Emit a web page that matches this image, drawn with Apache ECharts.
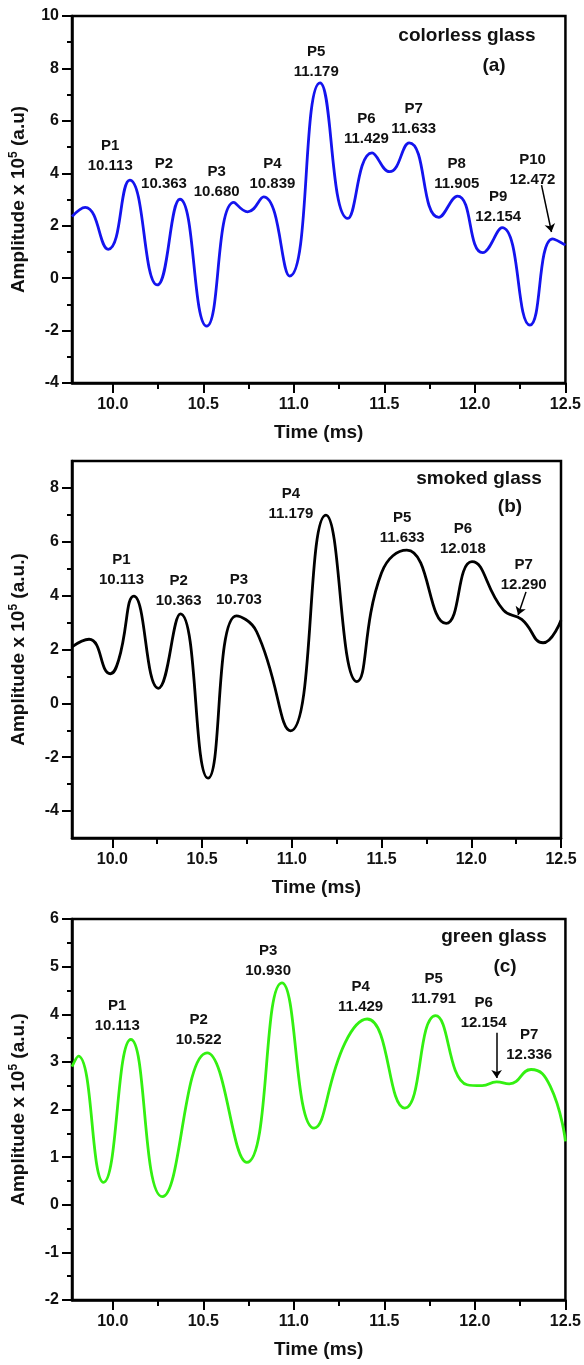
<!DOCTYPE html>
<html>
<head>
<meta charset="utf-8">
<script src="https://cdn.jsdelivr.net/npm/echarts@6/dist/echarts.min.js"></script>
<style>
  html, body { margin: 0; padding: 0; background: #fff; }
  #main { width: 584px; height: 1365px; }
</style>
</head>
<body>
<div id="main"></div>
<script>
// (a) colorless glass
var timeA = [9.775, 9.848, 9.975, 10.094, 10.246, 10.371, 10.519, 10.669, 10.745, 10.833, 10.977, 11.145,
  11.298, 11.432, 11.529, 11.637, 11.801, 11.904, 12.043, 12.150, 12.304, 12.430, 12.500];
var ampA = [2.35, 2.70, 1.10, 3.74, -0.26, 3.01, -1.83, 2.89, 2.53, 3.10, 0.08, 7.45,
  2.28, 4.78, 4.06, 5.16, 2.32, 3.13, 0.97, 1.93, -1.79, 1.50, 1.26];
var peakNameA = ['P1', 'P2', 'P3', 'P4', 'P5', 'P6', 'P7', 'P8', 'P9', 'P10'];
var peakTimeA = ['10.113', '10.363', '10.680', '10.839', '11.179', '11.429', '11.633', '11.905', '12.154', '12.472'];

// (b) smoked glass
var timeB = [9.775, 9.870, 9.989, 10.035, 10.120, 10.256, 10.379, 10.533, 10.691, 10.804, 10.993, 11.190,
  11.362, 11.500, 11.641, 11.860, 12.004, 12.179, 12.281, 12.400, 12.500];
var ampB = [2.10, 2.38, 1.10, 1.61, 3.98, 0.56, 3.32, -2.78, 3.25, 2.66, -1.02, 6.99,
  0.81, 4.85, 5.69, 2.97, 5.26, 3.46, 3.12, 2.25, 3.09];
var peakNameB = ['P1', 'P2', 'P3', 'P4', 'P5', 'P6', 'P7'];
var peakTimeB = ['10.113', '10.363', '10.703', '11.179', '11.633', '12.018', '12.290'];

// (c) green glass
var timeC = [9.775, 9.810, 9.949, 10.100, 10.274, 10.521, 10.740, 10.934, 11.112, 11.283, 11.405,
  11.613, 11.783, 11.957, 12.040, 12.120, 12.190, 12.310, 12.416, 12.500];
var ampC = [2.90, 3.12, 0.47, 3.47, 0.17, 3.19, 0.89, 4.66, 1.61, 3.40, 3.90,
  2.03, 3.97, 2.52, 2.50, 2.58, 2.54, 2.84, 2.49, 1.33];
var peakNameC = ['P1', 'P2', 'P3', 'P4', 'P5', 'P6', 'P7'];
var peakTimeC = ['10.113', '10.522', '10.930', '11.429', '11.791', '12.154', '12.336'];

// tick labels
var xTicks = [10.0, 10.5, 11.0, 11.5, 12.0, 12.5];
var xMinor = [10.25, 10.75, 11.25, 11.75, 12.25];
var yTicksA = [-4, -2, 0, 2, 4, 6, 8, 10];
var yMinorA = [-3, -1, 1, 3, 5, 7, 9];
var yTicksB = [-4, -2, 0, 2, 4, 6, 8];
var yMinorB = [-3, -1, 1, 3, 5, 7];
var yTicksC = [-2, -1, 0, 1, 2, 3, 4, 5, 6];
var yMinorC = [-1.5, -0.5, 0.5, 1.5, 2.5, 3.5, 4.5, 5.5];

// where the peak labels sit (data coords)
var labelPosA = [[9.986, 4.66], [10.283, 3.98], [10.574, 3.67], [10.882, 3.99], [11.124, 8.25],
  [11.401, 5.69], [11.662, 6.09], [11.900, 3.99], [12.129, 2.72], [12.318, 4.13]];
var labelPosB = [[10.051, 4.95], [10.369, 4.19], [10.705, 4.21], [10.995, 7.42], [11.615, 6.50],
  [11.953, 6.12], [12.292, 4.76]];
var labelPosC = [[10.025, 3.97], [10.474, 3.68], [10.858, 5.12], [11.369, 4.36], [11.772, 4.53],
  [12.048, 4.03], [12.300, 3.35]];
var arrowA = [[12.368, 3.55], [12.423, 1.76]];
var arrowB = [[12.305, 4.14], [12.261, 3.28]];
var arrowC = [[12.120, 3.61], [12.120, 2.66]];

var FONT = '"Liberation Sans", Arial, sans-serif';

var panels = [
  { time: timeA, amp: ampA, names: peakNameA, peaks: peakTimeA, pos: labelPosA, arrow: arrowA,
    color: '#1414ee', ymin: -4, ymax: 10, yTicks: yTicksA, yMinor: yMinorA, unit: '(a.u)',
    grid: { left: 72, top: 16, right: 18, height: 367 } },
  { time: timeB, amp: ampB, names: peakNameB, peaks: peakTimeB, pos: labelPosB, arrow: arrowB,
    color: '#000000', ymin: -5, ymax: 9, yTicks: yTicksB, yMinor: yMinorB, unit: '(a.u.)',
    grid: { left: 67, top: 461, right: 23, height: 377 } },
  { time: timeC, amp: ampC, names: peakNameC, peaks: peakTimeC, pos: labelPosC, arrow: arrowC,
    color: '#33f011', ymin: -2, ymax: 6, yTicks: yTicksC, yMinor: yMinorC, unit: '(a.u.)',
    grid: { left: 70, top: 919, right: 17, height: 381 } }
];

var titles = [
  ['colorless glass', 467, 36], ['(a)', 494, 66],
  ['smoked glass', 479, 479], ['(b)', 510, 507],
  ['green glass', 494, 937], ['(c)', 505, 967]
];

var grids = [], xAxes = [], yAxes = [], series = [];

panels.forEach(function (p, i) {
  grids.push({
    left: p.grid.left, top: p.grid.top, right: p.grid.right, height: p.grid.height,
    show: true, borderColor: '#000', borderWidth: 2.5, containLabel: false
  });

  // main x axis
  xAxes.push({
    gridIndex: i, type: 'value', min: 9.775, max: 12.5, position: 'bottom',
    axisLine: { show: true, onZero: false, lineStyle: { color: '#000', width: 2.5 } },
    axisTick: { show: true, customValues: xTicks, length: 10, lineStyle: { color: '#000', width: 2 } },
    axisLabel: { customValues: xTicks, margin: 14, color: '#111', fontSize: 16, fontWeight: 'bold', fontFamily: FONT,
      formatter: function (v) { return v.toFixed(1); } },
    splitLine: { show: false },
    name: 'Time (ms)', nameLocation: 'middle', nameGap: 40,
    nameTextStyle: { color: '#111', fontSize: 19, fontWeight: 'bold', fontFamily: FONT }
  });
  // minor x ticks
  xAxes.push({
    gridIndex: i, type: 'value', min: 9.775, max: 12.5, position: 'bottom', offset: 0,
    axisLine: { show: false, onZero: false },
    axisTick: { show: true, customValues: xMinor, length: 6, lineStyle: { color: '#000', width: 2 } },
    axisLabel: { show: false }, splitLine: { show: false }
  });

  yAxes.push({
    gridIndex: i, type: 'value', min: p.ymin, max: p.ymax, position: 'left',
    axisLine: { show: true, onZero: false, lineStyle: { color: '#000', width: 2.5 } },
    axisTick: { show: true, customValues: p.yTicks, length: 10, lineStyle: { color: '#000', width: 2 } },
    axisLabel: { customValues: p.yTicks, margin: 13, color: '#111', fontSize: 16, fontWeight: 'bold', fontFamily: FONT },
    splitLine: { show: false },
    name: '{n|Amplitude x 10}{s|5}{n| ' + p.unit + '}',
    nameLocation: 'middle', nameGap: 42,
    nameTextStyle: {
      rich: {
        n: { color: '#111', fontSize: 19, fontWeight: 'bold', fontFamily: FONT, lineHeight: 22 },
        s: { color: '#111', fontSize: 12, fontWeight: 'bold', fontFamily: FONT, verticalAlign: 'top', lineHeight: 22 }
      }
    }
  });
  yAxes.push({
    gridIndex: i, type: 'value', min: p.ymin, max: p.ymax, position: 'left', offset: 0,
    axisLine: { show: false, onZero: false },
    axisTick: { show: true, customValues: p.yMinor, length: 5, lineStyle: { color: '#000', width: 2 } },
    axisLabel: { show: false }, splitLine: { show: false }
  });

  var pts = p.time.map(function (t, k) { return [t, p.amp[k]]; });
  var marks = p.names.map(function (n, k) {
    return { name: n, value: p.peaks[k], coord: p.pos[k] };
  });

  series.push({
    type: 'line',
    xAxisIndex: i * 2, yAxisIndex: i * 2,
    data: pts,
    smooth: 0.5,
    showSymbol: false,
    lineStyle: { color: p.color, width: 2.8 },
    markPoint: {
      symbol: 'circle', symbolSize: 0, silent: true,
      label: {
        show: true, position: 'inside', color: '#111', fontSize: 15, fontWeight: 'bold',
        fontFamily: FONT, lineHeight: 20,
        formatter: function (q) { return q.data.name + '\n' + q.data.value; }
      },
      data: marks
    },
    markLine: {
      silent: true, symbol: ['none', 'arrow'], symbolSize: 8,
      lineStyle: { color: '#000', width: 1.5, type: 'solid' },
      label: { show: false },
      data: [[{ coord: p.arrow[0] }, { coord: p.arrow[1] }]]
    }
  });
});

var chart = echarts.init(document.getElementById('main'));
chart.setOption({
  animation: false,
  backgroundColor: '#fff',
  grid: grids,
  xAxis: xAxes,
  yAxis: yAxes,
  series: series,
  graphic: titles.map(function (t) {
    return {
      type: 'text', x: t[1], y: t[2],
      style: { text: t[0], fill: '#111', font: 'bold 19px ' + FONT, textAlign: 'center', textVerticalAlign: 'middle' }
    };
  })
});
</script>
</body>
</html>
